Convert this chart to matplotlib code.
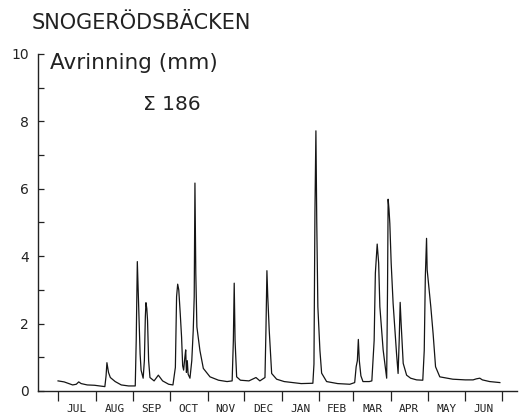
import matplotlib
matplotlib.use("Agg")
import matplotlib.pyplot as plt

# daily runoff, hydrological year starting 1 July (day 0)
days = [0, 5, 9, 12, 15, 17, 19, 24, 30, 38.5, 39.5, 40.2, 41.5, 43, 47, 52, 58,
        63.5, 64.3, 65.2, 66.0, 66.7, 67.5, 68.3, 70.0, 71.0, 71.8, 72.3, 73.0, 73.6,
        74.5, 75.6, 79, 82.5, 86, 91, 94.5, 96.5, 97.5, 98.4, 99.3, 100.5, 101.6,
        102.5, 103.3, 104.3, 105.0, 105.6, 106.3, 107.0, 108.5, 110.0, 111.2, 112.0,
        112.6, 113.3, 114.2, 116.7, 119.5, 125, 132, 139, 143.2, 144.2, 144.9, 145.6,
        146.9, 150, 157, 162.8, 166, 170.2, 171.0, 171.8, 172.5, 173.7, 175.7, 179.8,
        186, 193, 200, 209.6, 210.5, 211.3, 212.1, 212.8, 213.7, 215.4, 216.8, 220.9,
        230, 240, 244, 245.2, 246.2, 247.0, 247.8, 249.1, 250.8, 256, 258.1, 260.0,
        261.0, 262.5, 263.7, 264.7, 267.4, 270.3, 271.0, 271.5, 272.2, 272.9, 274.0,
        275.6, 278.4, 279.7, 280.6, 281.4, 282.2, 283.9, 286.7, 290, 294.9, 300,
        301.2, 302.1, 303.1, 303.6, 304.4, 305.5, 306.6, 308.5, 310.5, 314, 324.7,
        335, 341.4, 344, 346.9, 349, 355, 363.4]
runoff = [0.30, 0.27, 0.22, 0.18, 0.20, 0.27, 0.22, 0.18, 0.17, 0.13, 0.45, 0.84, 0.55,
          0.40, 0.28, 0.18, 0.15,
          0.15, 1.5, 3.84, 2.9, 2.1, 1.1, 0.62, 0.38, 0.9, 2.2, 2.62, 2.45, 2.1,
          0.9, 0.40, 0.30, 0.47, 0.30, 0.20, 0.18, 0.7, 2.8, 3.17, 3.0, 2.3, 1.6,
          0.75, 0.62, 1.0, 1.22, 0.55, 0.9, 0.50, 0.38, 0.9, 1.8, 2.8,
          6.17, 3.5, 1.9, 1.2, 0.67, 0.42, 0.32, 0.28, 0.30, 1.5, 3.2, 1.5,
          0.42, 0.32, 0.30, 0.40, 0.30, 0.40, 1.8, 3.57, 2.8, 1.8, 0.52, 0.35,
          0.28, 0.25, 0.22, 0.23, 0.8, 5.3, 7.72, 5.0, 2.5, 1.2, 0.53, 0.28,
          0.22, 0.20, 0.25, 0.72, 0.9, 1.53, 0.9, 0.45, 0.28, 0.28, 0.30, 1.5,
          3.5, 4.36, 3.8, 2.5, 1.22, 0.38, 3.0, 5.69, 5.4, 4.97, 3.8,
          2.6, 1.12, 0.52, 1.5, 2.63, 2.0, 0.82, 0.47, 0.38, 0.33, 0.32,
          1.2, 3.4, 4.53, 3.6, 3.3, 2.9, 2.5, 1.7, 0.72, 0.42, 0.35,
          0.33, 0.33, 0.36, 0.38, 0.33, 0.28, 0.25]

month_edges = [0, 31, 62, 92, 123, 153, 184, 215, 243, 274, 304, 335, 365]
months = ["JUL", "AUG", "SEP", "OCT", "NOV", "DEC", "JAN", "FEB", "MAR", "APR",
          "MAY", "JUN"]
total = 186

ink = "#222222"
fig = plt.figure(figsize=(5.19, 4.18), dpi=100)
ax = fig.add_axes([37.5 / 519, 27 / 418, (517 - 37.5) / 519, (391 - 54) / 418])

ax.plot(days, runoff, color="#151515", lw=0.9)

ax.set_xlim(-16.9, 377.5)
ax.set_ylim(0, 10)
for s in ["top", "right"]:
    ax.spines[s].set_visible(False)
for s in ["left", "bottom"]:
    ax.spines[s].set_color(ink)
    ax.spines[s].set_linewidth(1.0)

ax.set_yticks(range(0, 11))
ax.set_yticklabels([str(v) if v % 2 == 0 else "" for v in range(0, 11)])
ax.tick_params(axis="y", direction="in", length=4, width=0.9, pad=6,
               labelsize=10, colors=ink)

ax.set_xticks(month_edges)
ax.set_xticklabels([])
ax.set_xticks([(a + b) / 2 for a, b in zip(month_edges[:-1], month_edges[1:])],
              minor=True)
ax.set_xticklabels(months, minor=True, family="DejaVu Sans Mono", fontsize=8)
ax.tick_params(axis="x", which="major", direction="out", length=7, width=0.9,
               colors=ink)
ax.tick_params(axis="x", which="minor", length=0, pad=9, colors=ink)

fig.text(32 / 519, 1 - 23 / 418, "SNOGERÖDSBÄCKEN", fontsize=15, color=ink,
         va="center", ha="left")
fig.text(50 / 519, 1 - 63 / 418, "Avrinning (mm)", fontsize=15.5, color=ink,
         va="center", ha="left")
fig.text(143 / 519, 1 - 105 / 418, "Σ %d" % total, fontsize=14.5, color=ink,
         va="center", ha="left")

fig.savefig("out.png", dpi=100, facecolor="white")
